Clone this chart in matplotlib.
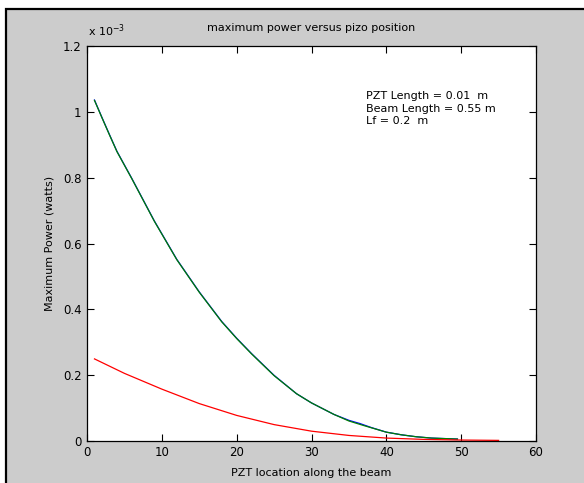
import numpy as np
import matplotlib
matplotlib.use("Agg")
import matplotlib.pyplot as plt
from matplotlib.patches import Rectangle

# --- adatok ---
green_x = [1, 2, 3, 4, 6, 9, 12, 15, 18, 20, 22, 25, 28, 30, 33, 35, 37, 40, 42, 44, 46, 49.5]
green_p = [1.036, 0.983, 0.931, 0.880, 0.797, 0.668, 0.551, 0.452, 0.362, 0.311, 0.264, 0.198,
           0.143, 0.115, 0.080, 0.060, 0.046, 0.026, 0.018, 0.012, 0.008, 0.005]

blue_x = [1, 2, 3, 4, 6, 9, 12, 15, 18, 20, 22, 25, 28, 30, 33, 35, 36.5, 38, 40, 42, 44, 46, 49.5]
blue_p = [1.037, 0.984, 0.932, 0.881, 0.798, 0.669, 0.552, 0.453, 0.363, 0.312, 0.265, 0.199,
          0.143, 0.115, 0.080, 0.062, 0.052, 0.040, 0.026, 0.018, 0.012, 0.008, 0.005]

red_x = [1, 3, 5, 10, 15, 20, 25, 30, 35, 40, 45, 50, 55]
red_p = [0.249, 0.227, 0.205, 0.157, 0.113, 0.077, 0.049, 0.029, 0.016, 0.008, 0.004, 0.002, 0.001]

info_lines = ["PZT Length = 0.01  m", "Beam Length = 0.55 m", "Lf = 0.2  m"]

W, H = 584, 483
fig = plt.figure(figsize=(W / 100, H / 100), dpi=100, facecolor="white")

# keret: fekete vonal + szürke háttér
fig.patches.append(Rectangle((5.5 / W, -0.05), 1.2, 1 - 9 / H + 0.05, transform=fig.transFigure,
                             facecolor="#cccccc", edgecolor="black", linewidth=1.6, zorder=-2))

ax = fig.add_axes([87 / W, (H - 440.7) / H, (536 - 87) / W, (440.7 - 46.5) / H])
ax.set_facecolor("white")

ax.plot(np.array(blue_x), np.array(blue_p) * 1e-3, color=(0, 0, 1), lw=0.9)
ax.plot(np.array(green_x), np.array(green_p) * 1e-3, color=(0, 0.5, 0), lw=0.9)
ax.plot(np.array(red_x), np.array(red_p) * 1e-3, color=(1, 0, 0), lw=0.9)

ax.set_xlim(0, 60)
ax.set_ylim(0, 1.2e-3)
ax.set_xticks(np.arange(0, 61, 10))
ax.set_yticks(np.arange(0, 1.21e-3, 0.2e-3))
ax.set_yticklabels(["0", "0.2", "0.4", "0.6", "0.8", "1", "1.2"])

ax.tick_params(direction="in", top=True, right=True, length=5, width=0.8,
               labelsize=8.5, pad=4, colors="black")
for s in ax.spines.values():
    s.set_linewidth(0.9)

fs = 8
ax.set_title("maximum power versus pizo position", fontsize=fs, pad=11)
ax.set_xlabel("PZT location along the beam", fontsize=fs, labelpad=6)
ax.set_ylabel("Maximum Power (watts)", fontsize=fs, labelpad=6)

fig.text(88 / W, 1 - 31 / H, r"x 10$^{-3}$", fontsize=8, ha="left", va="center")

for i, line in enumerate(info_lines):
    ax.text(37.3, 1.05e-3 - i * 0.039e-3, line, fontsize=8, ha="left", va="center")

fig.savefig("out.png", dpi=100, facecolor=fig.get_facecolor())
